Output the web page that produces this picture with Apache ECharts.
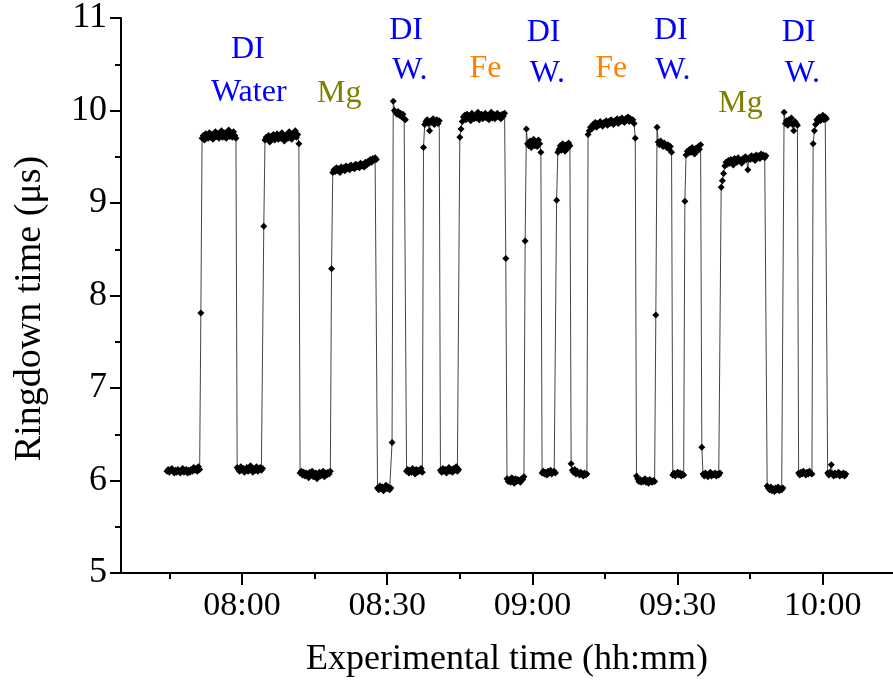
<!DOCTYPE html>
<html>
<head>
<meta charset="utf-8">
<script src="https://cdn.jsdelivr.net/npm/echarts@6/dist/echarts.min.js"></script>
<style>
html,body{margin:0;padding:0;background:#fff;}
#chart{width:893px;height:690px;}
</style>
</head>
<body>
<div id="chart"></div>
<script>
// Time in minutes after midnight; samples every 0.25 min within each segment
const sampleStep = 0.25;
const segStart = [464.5, 471.5, 479.0, 484.5, 492.0, 498.5, 508.0, 511.25, 514.0, 517.5,
                  521.0, 525.0, 534.5, 538.5, 542.0, 545.0, 548.0, 551.5, 561.5, 565.5,
                  569.0, 571.5, 575.0, 579.0, 588.5, 592.0, 595.0, 598.0, 601.0];
const segValues = [
  [6.10,6.12,6.09,6.11,6.13,6.10,6.08,6.11,6.09,6.12,6.10,6.08,6.11,6.13,6.09,6.10,6.12,6.08,6.11,6.09,6.12,6.10,6.14,6.11,6.13,6.10,6.15,6.12],
  [7.81,9.70,9.73,9.68,9.75,9.72,9.70,9.76,9.71,9.74,9.69,9.73,9.77,9.72,9.75,9.70,9.74,9.78,9.71,9.73,9.76,9.70,9.74,9.79,9.72,9.75,9.71,9.77,9.73,9.70],
  [6.14,6.12,6.10,6.15,6.11,6.13,6.09,6.12,6.14,6.10,6.11,6.16,6.12,6.09,6.13,6.11,6.15,6.10,6.12,6.14,6.11,6.13],
  [8.75,9.68,9.71,9.69,9.73,9.66,9.72,9.70,9.74,9.68,9.71,9.75,9.69,9.72,9.70,9.76,9.73,9.67,9.71,9.74,9.70,9.77,9.72,9.69,9.75,9.73,9.78,9.71,9.74,9.64],
  [6.08,6.10,6.06,6.09,6.05,6.08,6.07,6.03,6.09,6.06,6.10,6.04,6.07,6.08,6.02,6.06,6.09,6.05,6.07,6.10,6.04,6.08,6.06,6.09,6.07,6.10],
  [8.29,9.33,9.36,9.34,9.38,9.35,9.37,9.33,9.39,9.36,9.38,9.35,9.40,9.37,9.39,9.36,9.41,9.38,9.40,9.37,9.42,9.39,9.41,9.38,9.43,9.40,9.42,9.39,9.44,9.41,9.45,9.43,9.47,9.44,9.48,9.46,9.49,9.47],
  [5.92,5.90,5.94,5.91,5.93,5.89,5.92,5.95,5.91,5.93,5.90,5.92,6.41],
  [10.10,10.00,9.98,9.96,9.99,9.95,9.97,9.93,9.96,9.91,9.90],
  [6.10,6.12,6.08,6.11,6.09,6.13,6.10,6.07,6.12,6.09,6.11,6.10,6.13,6.09],
  [9.60,9.85,9.88,9.90,9.86,9.78,9.89,9.87,9.91,9.85,9.88,9.90,9.86,9.89],
  [6.11,6.09,6.13,6.10,6.12,6.08,6.11,6.14,6.10,6.12,6.09,6.13,6.11,6.15,6.10,6.12],
  [9.71,9.80,9.88,9.93,9.95,9.90,9.96,9.92,9.94,9.89,9.97,9.93,9.91,9.95,9.92,9.98,9.90,9.94,9.96,9.91,9.93,9.97,9.92,9.95,9.90,9.94,9.98,9.92,9.96,9.91,9.94,9.97,9.93,9.95,9.91,9.96,9.94,9.97],
  [8.40,6.02,5.99,6.01,5.98,6.03,6.00,5.97,6.02,5.99,6.01,6.00,5.98,6.02,6.01,6.04],
  [8.59,9.80,9.64,9.62,9.67,9.60,9.65,9.69,9.62,9.66,9.61,9.68,9.64,9.55],
  [6.08,6.10,6.07,6.09,6.06,6.10,6.08,6.11,6.07,6.09,6.10,6.08],
  [9.03,9.55,9.58,9.62,9.57,9.64,9.60,9.56,9.63,9.59,9.65,9.62],
  [6.18,6.11,6.09,6.12,6.07,6.10,6.08,6.06,6.09,6.07,6.05,6.08,6.06,6.07],
  [9.74,9.78,9.82,9.80,9.85,9.83,9.87,9.82,9.86,9.84,9.88,9.85,9.83,9.87,9.86,9.89,9.84,9.88,9.86,9.90,9.87,9.85,9.89,9.88,9.91,9.86,9.90,9.88,9.92,9.89,9.87,9.91,9.90,9.93,9.88,9.91,9.89,9.90,9.86,9.70],
  [6.05,6.02,5.99,6.01,5.98,6.00,5.99,6.02,5.98,6.00,5.97,6.01,5.99,5.98,6.00,5.99],
  [7.79,9.82,9.66,9.63,9.67,9.64,9.61,9.65,9.62,9.60,9.63,9.58,9.61,9.55],
  [6.06,6.08,6.05,6.07,6.09,6.06,6.08,6.05,6.07,6.06],
  [9.02,9.52,9.56,9.54,9.58,9.55,9.60,9.57,9.53,9.59,9.56,9.61,9.58,9.63],
  [6.36,6.07,6.05,6.08,6.06,6.04,6.07,6.09,6.05,6.07,6.06,6.08,6.05,6.07,6.06,6.08],
  [9.17,9.24,9.32,9.40,9.44,9.42,9.46,9.43,9.47,9.45,9.41,9.48,9.46,9.44,9.49,9.47,9.45,9.43,9.48,9.46,9.50,9.47,9.36,9.49,9.47,9.51,9.48,9.50,9.46,9.52,9.49,9.51,9.48,9.53,9.50,9.52,9.49,9.51],
  [5.94,5.92,5.90,5.93,5.89,5.91,5.88,5.92,5.90,5.93,5.89,5.91,5.90,5.92],
  [9.98,9.86,9.89,9.84,9.90,9.87,9.92,9.85,9.78,9.88,9.86,9.84],
  [6.08,6.06,6.09,6.07,6.10,6.08,6.06,6.09,6.07,6.10,6.08,6.07],
  [9.64,9.78,9.85,9.90,9.88,9.93,9.89,9.92,9.95,9.90,9.93,9.91],
  [6.08,6.06,6.09,6.17,6.07,6.05,6.08,6.06,6.07,6.09,6.05,6.07,6.06,6.08,6.05,6.07]
];

// Axis ticks (minutes after midnight)
const majorTicks = [480, 510, 540, 570, 600];
const minorTicks = [465, 495, 525, 555, 585];
const xMin = 455, xMax = 614.5;

// Annotations
const annoText  = ['DI','Water','Mg','DI','W.','Fe','DI','W.','Fe','DI','W.','Mg','DI','W.'];
const annoTime  = [481.2,481.4,500.1,513.9,514.7,530.3,542.3,543.1,556.3,568.6,569.0,583.0,595.0,595.8];
const annoValue = [10.66,10.19,10.18,10.86,10.43,10.45,10.84,10.40,10.45,10.86,10.43,10.07,10.84,10.40];
const annoKind  = ['w','w','m','w','w','f','w','w','f','w','w','m','w','w'];
const kindColor = {w:'#0000FF', m:'#808000', f:'#FF8000'};

const seriesData = [];
segStart.forEach((s, i) => {
  segValues[i].forEach((v, j) => { seriesData.push([s + j * sampleStep, v]); });
});

const annoData = annoText.map((t, i) => ({
  value: [annoTime[i], annoValue[i]],
  label: { formatter: t, color: kindColor[annoKind[i]] }
}));

function fmt(v) {
  const h = Math.floor(v / 60), m = Math.round(v - h * 60);
  return String(h).padStart(2, '0') + ':' + String(m).padStart(2, '0');
}

const FONT = '"Liberation Serif","Times New Roman",serif';
const chart = echarts.init(document.getElementById('chart'), null, {renderer: 'canvas'});
chart.setOption({
  animation: false,
  backgroundColor: '#fff',
  grid: {left: 121, right: 0, top: 18, bottom: 117, containLabel: false},
  xAxis: [{
    type: 'value', min: xMin, max: xMax,
    name: 'Experimental time (hh:mm)', nameLocation: 'middle', nameGap: 69,
    nameTextStyle: {fontFamily: FONT, fontSize: 36, color: '#000'},
    axisLine: {show: true, onZero: false, lineStyle: {color: '#000', width: 2}},
    axisTick: {show: true, inside: false, length: 12, customValues: majorTicks, lineStyle: {color: '#000', width: 2}},
    axisLabel: {show: true, customValues: majorTicks, formatter: fmt, fontFamily: FONT, fontSize: 34, color: '#000', margin: 16},
    splitLine: {show: false}
  }, {
    type: 'value', min: xMin, max: xMax, position: 'bottom',
    axisLine: {show: false},
    axisTick: {show: true, inside: false, length: 6, customValues: minorTicks, lineStyle: {color: '#000', width: 2}},
    axisLabel: {show: false},
    splitLine: {show: false}
  }],
  yAxis: {
    type: 'value', min: 5, max: 11, interval: 1,
    name: 'Ringdown time (μs)', nameLocation: 'middle', nameGap: 72, nameRotate: 90,
    nameTextStyle: {fontFamily: FONT, fontSize: 38, color: '#000', padding: [0, 26, 0, 0]},
    axisLine: {show: true, lineStyle: {color: '#000', width: 2}},
    axisTick: {show: true, inside: false, length: 11, lineStyle: {color: '#000', width: 2}},
    minorTick: {show: true, splitNumber: 2, length: 6, lineStyle: {color: '#000', width: 2}},
    axisLabel: {fontFamily: FONT, fontSize: 36, color: '#000', margin: 14},
    splitLine: {show: false}
  },
  series: [{
    type: 'line', xAxisIndex: 0, data: seriesData,
    symbol: 'diamond', symbolSize: 7, showAllSymbol: true,
    lineStyle: {color: '#444', width: 1},
    itemStyle: {color: '#000'},
    silent: true
  }, {
    type: 'scatter', xAxisIndex: 0, data: annoData,
    symbolSize: 1, itemStyle: {color: 'rgba(0,0,0,0)'},
    label: {show: true, position: 'inside', fontFamily: FONT, fontSize: 32,
            textBorderWidth: 0, textBorderColor: 'transparent', opacity: 1},
    silent: true
  }]
});
</script>
</body>
</html>
